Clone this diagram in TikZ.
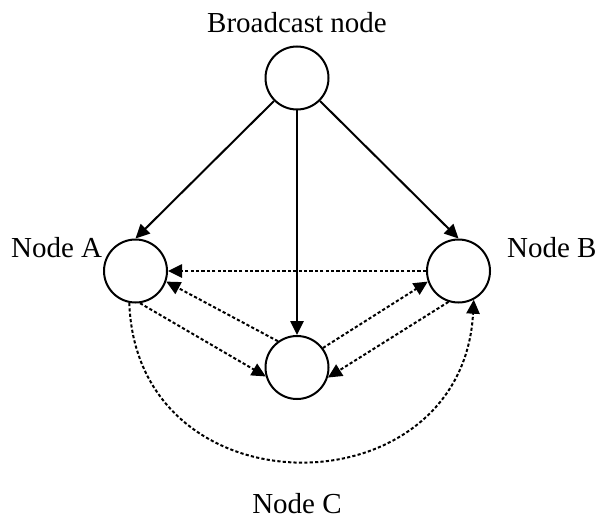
\documentclass[tikz,border=0pt]{standalone}
\usepackage{fontspec}
\setmainfont{Liberation Serif}
\usetikzlibrary{positioning,arrows.meta}

\begin{document}
\begin{tikzpicture}[x=0.5pt,y=-0.5pt,>={Triangle[length=7pt,width=6.6pt]},
    station/.style={circle,draw,line width=1pt,minimum size=31.5pt,inner sep=0pt},
    caption/.style={inner sep=0pt,font=\fontsize{14.5}{17}\selectfont},
    link/.style={line width=1pt},
    dotlink/.style={line width=1pt,dash pattern=on 1.6pt off 1.1pt}]
    \useasboundingbox (0,0) rectangle (597,518);

    \node[station] (BC) at (297,78) {};
    \node[station] (A) at (135.5,271) {};
    \node[station] (B) at (458.5,271) {};
    \node[station] (C) at (297,367.5) {};

    \node[caption,above=6.4pt of BC] (BCtext) {Broadcast node};
    \node[caption,left=5pt of A.north west] (Atext) {Node A};
    \node[caption,right=12.6pt of B.north east] (Btext) {Node B};
    \node[caption,below=46.4pt of C] (Ctext) {Node C};

    \foreach \u / \v in {BC.south west/A.north,BC.south/C.north,BC.south east/B.north}
        \draw[link,->] (\u) -- (\v);

    \foreach \u / \v in {B.west/A.east,C.126/A.-19,A.-82/C.196,C.37/B.199,B.252/C.342}
        \draw[dotlink,->] (\u) -- (\v);

    \draw[dotlink,->] (A.-101) to[out=-88,in=-93,looseness=1.58] (B.-62);
\end{tikzpicture}
\end{document}
